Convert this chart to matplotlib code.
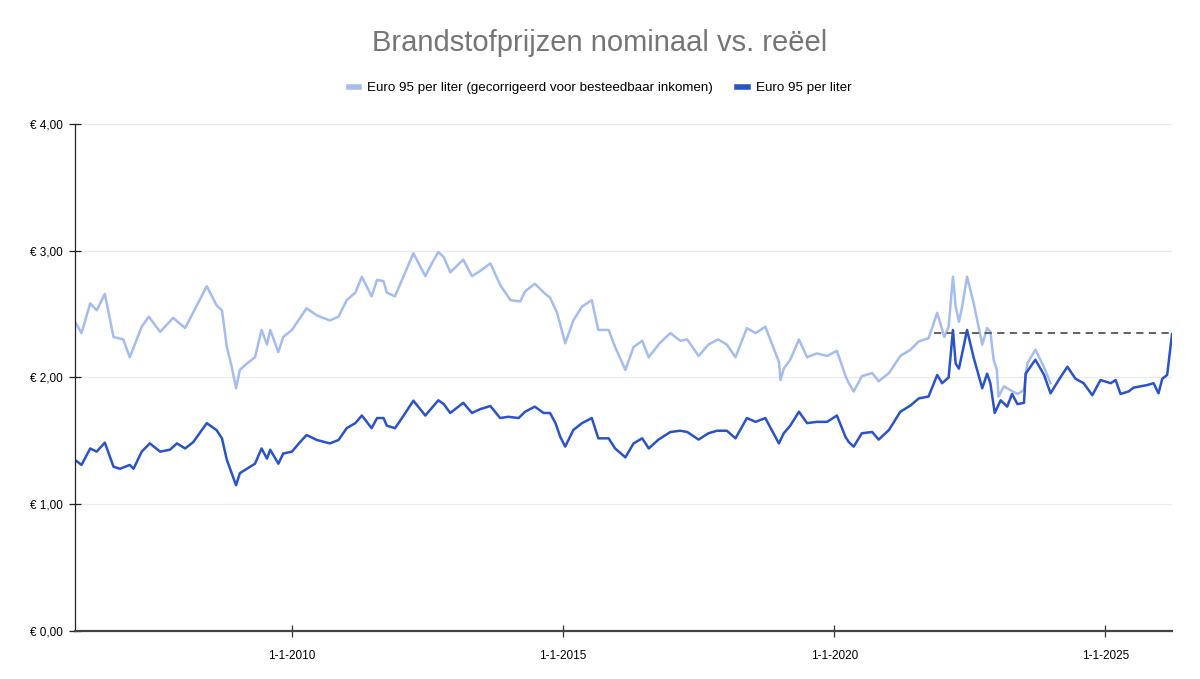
import matplotlib.pyplot as plt
from matplotlib.lines import Line2D

plt.rcParams['font.family'] = ['Liberation Sans', 'DejaVu Sans']

# nominale prijs (jaar als decimaal, euro per liter)
nom_jaar = [2006.00, 2006.12, 2006.28, 2006.40, 2006.55, 2006.71, 2006.83, 2007.01, 2007.08, 2007.23,
            2007.38, 2007.57, 2007.75, 2007.88, 2008.03, 2008.18, 2008.43, 2008.61, 2008.71, 2008.80,
            2008.89, 2008.97, 2009.04, 2009.17, 2009.32, 2009.44, 2009.54, 2009.60, 2009.75, 2009.84,
            2010.00, 2010.15, 2010.27, 2010.46, 2010.70, 2010.86, 2011.01, 2011.17, 2011.29, 2011.47,
            2011.57, 2011.69, 2011.75, 2011.90, 2012.03, 2012.24, 2012.46, 2012.58, 2012.70, 2012.80,
            2012.92, 2013.16, 2013.32, 2013.47, 2013.66, 2013.84, 2013.99, 2014.18, 2014.30, 2014.48,
            2014.64, 2014.76, 2014.86, 2014.95, 2015.04, 2015.19, 2015.35, 2015.53, 2015.65, 2015.84,
            2015.96, 2016.15, 2016.30, 2016.46, 2016.58, 2016.76, 2016.98, 2017.16, 2017.29, 2017.50,
            2017.68, 2017.84, 2018.02, 2018.18, 2018.39, 2018.55, 2018.73, 2018.98, 2019.07, 2019.19,
            2019.35, 2019.50, 2019.68, 2019.87, 2020.05, 2020.21, 2020.27, 2020.36, 2020.51, 2020.70,
            2020.82, 2021.01, 2021.22, 2021.41, 2021.56, 2021.74, 2021.90, 2021.99, 2022.11, 2022.19,
            2022.24, 2022.30, 2022.36, 2022.45, 2022.57, 2022.73, 2022.82, 2022.88, 2022.96, 2023.07,
            2023.19, 2023.28, 2023.38, 2023.50, 2023.53, 2023.71, 2023.87, 2023.99, 2024.14, 2024.30,
            2024.45, 2024.60, 2024.76, 2024.91, 2025.10, 2025.19, 2025.28, 2025.43, 2025.52, 2025.77,
            2025.89, 2025.98, 2026.05, 2026.14, 2026.23]
nom_prijs = [1.35, 1.31, 1.44, 1.415, 1.486, 1.296, 1.28, 1.31, 1.28, 1.415,
             1.48, 1.415, 1.43, 1.48, 1.44, 1.49, 1.64, 1.585, 1.52, 1.35,
             1.245, 1.15, 1.245, 1.28, 1.32, 1.44, 1.36, 1.43, 1.32, 1.40,
             1.415, 1.49, 1.546, 1.507, 1.48, 1.507, 1.60, 1.64, 1.70, 1.60,
             1.68, 1.68, 1.62, 1.60, 1.68, 1.817, 1.70, 1.76, 1.82, 1.79,
             1.72, 1.80, 1.72, 1.75, 1.775, 1.68, 1.69, 1.68, 1.73, 1.77,
             1.72, 1.72, 1.64, 1.53, 1.455, 1.586, 1.64, 1.68, 1.52, 1.52,
             1.44, 1.37, 1.48, 1.52, 1.44, 1.51, 1.57, 1.58, 1.57, 1.51,
             1.56, 1.58, 1.58, 1.52, 1.68, 1.65, 1.68, 1.48, 1.56, 1.62,
             1.73, 1.64, 1.65, 1.65, 1.70, 1.53, 1.49, 1.455, 1.56, 1.57,
             1.51, 1.586, 1.73, 1.78, 1.835, 1.85, 2.02, 1.955, 2.00, 2.375,
             2.11, 2.07, 2.19, 2.375, 2.16, 1.915, 2.03, 1.955, 1.72, 1.82,
             1.77, 1.87, 1.79, 1.80, 2.03, 2.14, 2.02, 1.875, 1.98, 2.085,
             1.99, 1.955, 1.86, 1.98, 1.955, 1.98, 1.87, 1.89, 1.92, 1.94,
             1.955, 1.875, 1.99, 2.02, 2.343]

# gecorrigeerd voor besteedbaar inkomen
reeel_jaar = [2006.00, 2006.12, 2006.28, 2006.40, 2006.55, 2006.71, 2006.89, 2007.01, 2007.23, 2007.36,
              2007.57, 2007.81, 2008.03, 2008.14, 2008.43, 2008.61, 2008.71, 2008.80, 2008.89, 2008.97,
              2009.04, 2009.17, 2009.32, 2009.44, 2009.54, 2009.60, 2009.75, 2009.84, 2010.00, 2010.15,
              2010.27, 2010.46, 2010.70, 2010.86, 2011.01, 2011.17, 2011.29, 2011.47, 2011.57, 2011.69,
              2011.75, 2011.90, 2012.03, 2012.24, 2012.46, 2012.58, 2012.70, 2012.80, 2012.92, 2013.16,
              2013.32, 2013.47, 2013.66, 2013.84, 2014.03, 2014.21, 2014.30, 2014.48, 2014.67, 2014.76,
              2014.89, 2015.04, 2015.19, 2015.35, 2015.53, 2015.65, 2015.84, 2015.96, 2016.15, 2016.30,
              2016.46, 2016.58, 2016.78, 2016.98, 2017.16, 2017.29, 2017.50, 2017.68, 2017.86, 2018.02,
              2018.18, 2018.39, 2018.55, 2018.73, 2018.98, 2019.01, 2019.07, 2019.19, 2019.35, 2019.50,
              2019.68, 2019.87, 2020.05, 2020.21, 2020.27, 2020.36, 2020.51, 2020.70, 2020.82, 2021.01,
              2021.22, 2021.41, 2021.56, 2021.74, 2021.90, 2022.03, 2022.11, 2022.19, 2022.24, 2022.30,
              2022.36, 2022.45, 2022.57, 2022.73, 2022.82, 2022.88, 2022.94, 2023.00, 2023.03, 2023.13,
              2023.25, 2023.38, 2023.50, 2023.56, 2023.71, 2023.87, 2023.99]
reeel_prijs = [2.44, 2.35, 2.585, 2.53, 2.66, 2.32, 2.30, 2.16, 2.40, 2.48,
               2.36, 2.47, 2.39, 2.48, 2.72, 2.57, 2.53, 2.24, 2.085, 1.915,
               2.06, 2.11, 2.16, 2.375, 2.26, 2.375, 2.20, 2.32, 2.375, 2.47,
               2.546, 2.49, 2.45, 2.48, 2.61, 2.67, 2.795, 2.64, 2.77, 2.76,
               2.67, 2.64, 2.77, 2.98, 2.80, 2.90, 2.99, 2.95, 2.83, 2.93,
               2.80, 2.84, 2.90, 2.73, 2.61, 2.60, 2.68, 2.74, 2.66, 2.63,
               2.51, 2.27, 2.45, 2.56, 2.61, 2.375, 2.375, 2.24, 2.06, 2.24,
               2.29, 2.16, 2.27, 2.35, 2.29, 2.30, 2.17, 2.26, 2.30, 2.26,
               2.16, 2.39, 2.35, 2.40, 2.125, 1.98, 2.07, 2.14, 2.30, 2.16,
               2.19, 2.17, 2.21, 2.01, 1.955, 1.89, 2.01, 2.035, 1.97, 2.035,
               2.17, 2.22, 2.285, 2.31, 2.51, 2.32, 2.40, 2.795, 2.56, 2.44,
               2.56, 2.795, 2.59, 2.26, 2.39, 2.36, 2.14, 2.06, 1.85, 1.93,
               1.90, 1.87, 1.90, 2.11, 2.22, 2.08, 1.955]

ref_start = 2021.84
ref_prijs = 2.35

jaar_ticks = [2010, 2015, 2020, 2025]
jaar_labels = ['1-1-2010', '1-1-2015', '1-1-2020', '1-1-2025']
prijs_ticks = [0, 1, 2, 3, 4]
prijs_labels = ['€ 0,00', '€ 1,00', '€ 2,00', '€ 3,00', '€ 4,00']

licht = '#a4bdee'
donker = '#2a52c9'

fig = plt.figure(figsize=(12, 6.79), dpi=100)
ax = fig.add_axes([0.0625, 0.0707, 0.9142, 0.7467])

ax.plot(reeel_jaar, reeel_prijs, color=licht, lw=1.8)
ax.plot(nom_jaar, nom_prijs, color=donker, lw=1.8)
ax.plot([ref_start, 2026.23], [ref_prijs, ref_prijs], color='#555555', lw=1.3, ls=(0, (4, 3)))

ax.set_xlim(2006.0, 2026.23)
ax.set_ylim(0, 4)
ax.set_xticks(jaar_ticks)
ax.set_xticklabels(jaar_labels)
ax.set_yticks(prijs_ticks)
ax.set_yticklabels(prijs_labels)
ax.tick_params(axis='x', direction='inout', length=9, width=0.9, labelsize=8.5, pad=9, color='#333333')
ax.tick_params(axis='y', direction='inout', length=8, width=0.9, labelsize=8.5, pad=5, color='#222222')
ax.grid(axis='y', color='#ebebeb', lw=1)
ax.set_axisbelow(True)
for s in ['top', 'right']:
    ax.spines[s].set_visible(False)
ax.spines['left'].set_color('#222222')
ax.spines['left'].set_linewidth(0.9)
ax.spines['bottom'].set_color('#444444')
ax.spines['bottom'].set_linewidth(1.6)

fig.text(0.5, 0.936, 'Brandstofprijzen nominaal vs. reëel', ha='center', va='center',
         fontsize=21, color='#757575')

handles = [Line2D([], [], color=licht, lw=4), Line2D([], [], color=donker, lw=4)]
fig.legend(handles, ['Euro 95 per liter (gecorrigeerd voor besteedbaar inkomen)', 'Euro 95 per liter'],
           loc='center', bbox_to_anchor=(0.5, 0.870), ncol=2, frameon=False, fontsize=9.6,
           handlelength=0.8, handletextpad=0.6, columnspacing=1.8)

fig.savefig('out.png', dpi=100)
